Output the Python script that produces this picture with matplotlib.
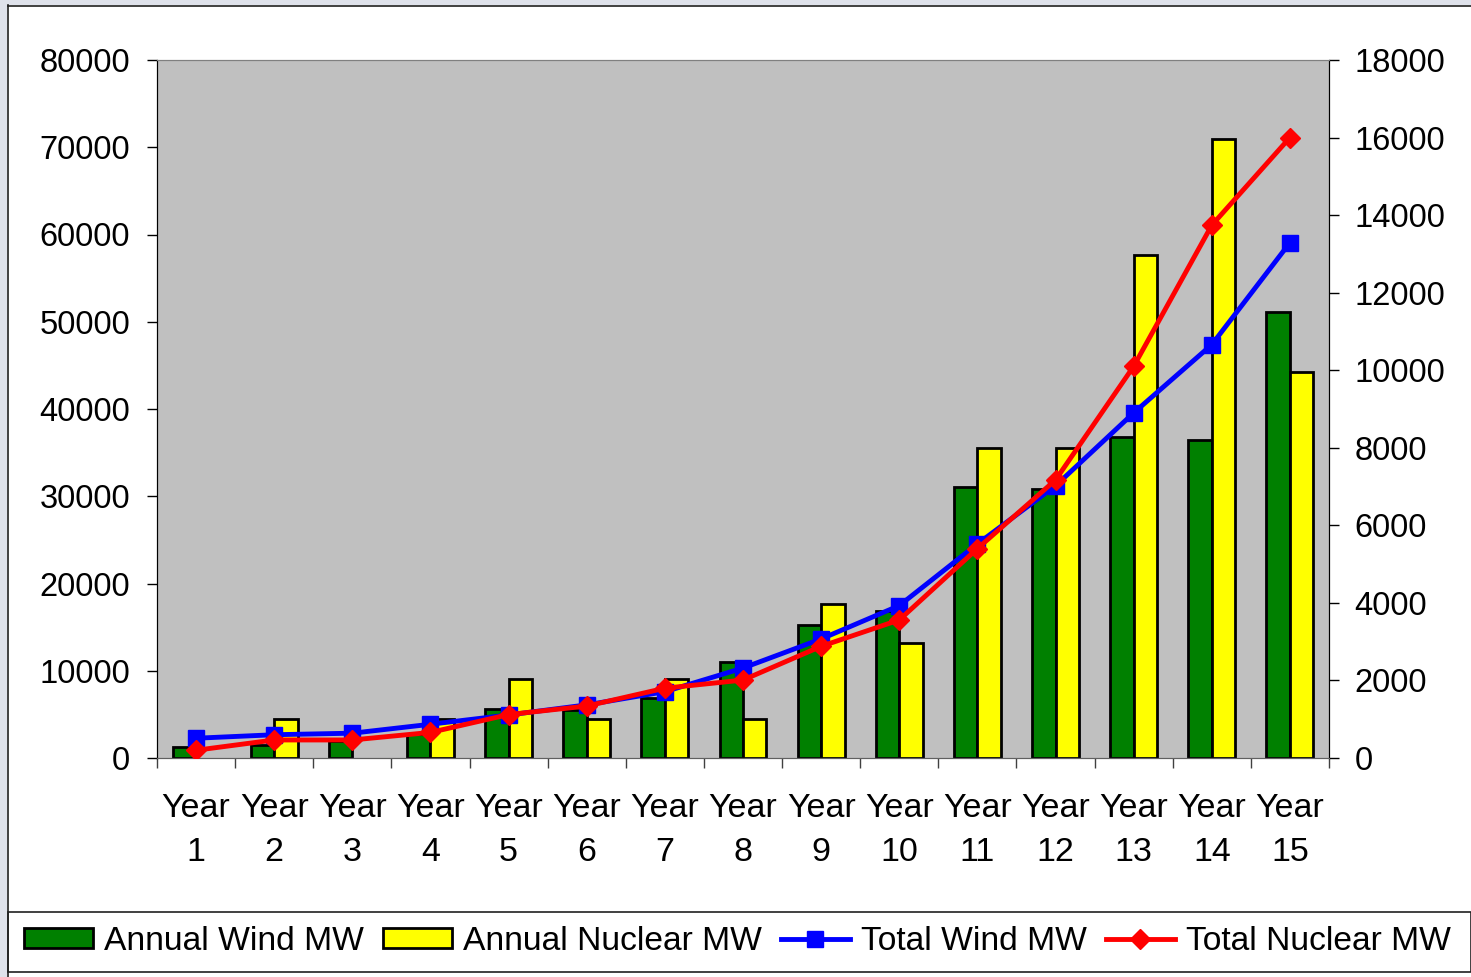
import numpy as np
import matplotlib
matplotlib.use("Agg")
import matplotlib.pyplot as plt
from matplotlib.patches import Rectangle
from matplotlib.lines import Line2D

# Yearly build-out figures (MW)
years = [str(i) for i in range(1, 16)]
annual_wind = [1300, 1500, 2000, 2800, 5600, 5500, 6900, 11000, 15200, 16800,
               31100, 30800, 36800, 36500, 51100]
annual_nuclear = [0, 4500, 0, 4500, 9000, 4500, 9000, 4500, 17600, 13200,
                  35500, 35500, 57700, 70900, 44200]
total_wind = [510, 600, 640, 870, 1110, 1370, 1710, 2320, 3070, 3930,
              5520, 7020, 8900, 10660, 13290]
total_nuclear = [200, 465, 465, 660, 1120, 1340, 1800, 2010, 2880, 3560,
                 5400, 7170, 10100, 13740, 16000]

left_ticks = list(range(0, 80001, 10000))
right_ticks = list(range(0, 18001, 2000))

plt.rcParams["font.family"] = ["Liberation Sans", "DejaVu Sans"]
FS = 23.5

W, H = 1471, 977
fig = plt.figure(figsize=(W / 100, H / 100), dpi=100)
fig.patch.set_facecolor("white")

def px(x0, y0, x1, y1):
    """pixel box (top-left origin) -> figure fraction rect"""
    return [x0 / W, 1 - y1 / H, (x1 - x0) / W, (y1 - y0) / H]

# outer frame: grey margin on left/top, dark border line
fig.patches.append(Rectangle((0, 0), 7 / W, 1, transform=fig.transFigure,
                             facecolor="#dfe2eb", edgecolor="none", zorder=0))
fig.patches.append(Rectangle((0, 1 - 5 / H), 1, 5 / H, transform=fig.transFigure,
                             facecolor="#dfe2eb", edgecolor="none", zorder=0))
fig.add_artist(Line2D([7.5 / W, 7.5 / W], [0, 1 - 5 / H], transform=fig.transFigure,
                      color="#202020", lw=1.2))
fig.add_artist(Line2D([7.5 / W, 1], [1 - 5.5 / H, 1 - 5.5 / H], transform=fig.transFigure,
                      color="#202020", lw=1.2))

ax = fig.add_axes(px(157, 60, 1329, 758))
ax.set_facecolor("#c0c0c0")
ax2 = ax.twinx()

n = len(years)
x = np.arange(n) + 0.5
bw = 0.3
nuc = np.array(annual_nuclear, dtype=float)
nuc[nuc == 0] = np.nan  # no build that year: leave the slot empty
ax.bar(x, annual_wind, width=-bw, align="edge", color="#008000",
       edgecolor="black", linewidth=2.0, label="Annual Wind MW", zorder=2)
ax.bar(x, nuc, width=bw, align="edge", color="#ffff00",
       edgecolor="black", linewidth=2.0, label="Annual Nuclear MW", zorder=2)

ax2.plot(x, total_wind, color="#0000ff", lw=3.5, marker="s", markersize=11,
         markeredgecolor="#0000ff", label="Total Wind MW", zorder=3)
ax2.plot(x, total_nuclear, color="#ff0000", lw=3.5, marker="D", markersize=10,
         markeredgecolor="#ff0000", label="Total Nuclear MW", zorder=4)

ax.set_xlim(0, n)
ax.set_ylim(0, 80000)
ax2.set_ylim(0, 18000)

ax.set_yticks(left_ticks)
ax.set_yticklabels([str(t) for t in left_ticks], fontsize=FS)
ax2.set_yticks(right_ticks)
ax2.set_yticklabels([str(t) for t in right_ticks], fontsize=FS)

ax.set_xticks(x)
ax.set_xticklabels([f"Year\n{y}" for y in years], fontsize=24.5, linespacing=1.55)
ax.set_xticks(np.arange(n + 1), minor=True)
ax.tick_params(axis="x", which="major", length=0, pad=25)
ax.tick_params(axis="x", which="minor", length=7.5, width=1, color="#404040",
               direction="out")
ax.tick_params(axis="y", length=7.5, width=1, direction="out", pad=12)
ax2.tick_params(axis="y", length=7.5, width=1, direction="out", pad=11)

for a in (ax, ax2):
    a.spines["top"].set_color("#808080")
    a.spines["bottom"].set_color("#606060")
    a.spines["left"].set_color("black")
    a.spines["right"].set_color("black")
ax2.patch.set_visible(False)

# legend box across the bottom
fig.patches.append(Rectangle((8 / W, 1 - 971.5 / H), (1470.5 - 8) / W, (971.5 - 912) / H,
                             transform=fig.transFigure, facecolor="white",
                             edgecolor="#202020", lw=1.2, zorder=1))
h1, l1 = ax.get_legend_handles_labels()
h2, l2 = ax2.get_legend_handles_labels()
fig.legend(h1 + h2, l1 + l2, loc="center", ncol=4, frameon=False,
           bbox_to_anchor=((20 + 1455) / 2 / W, 1 - 941.5 / H),
           fontsize=24.2, handlelength=2.05, handleheight=0.55,
           handletextpad=0.35, columnspacing=0.55, borderaxespad=0,
           borderpad=0)

fig.savefig("out.png", dpi=100)
